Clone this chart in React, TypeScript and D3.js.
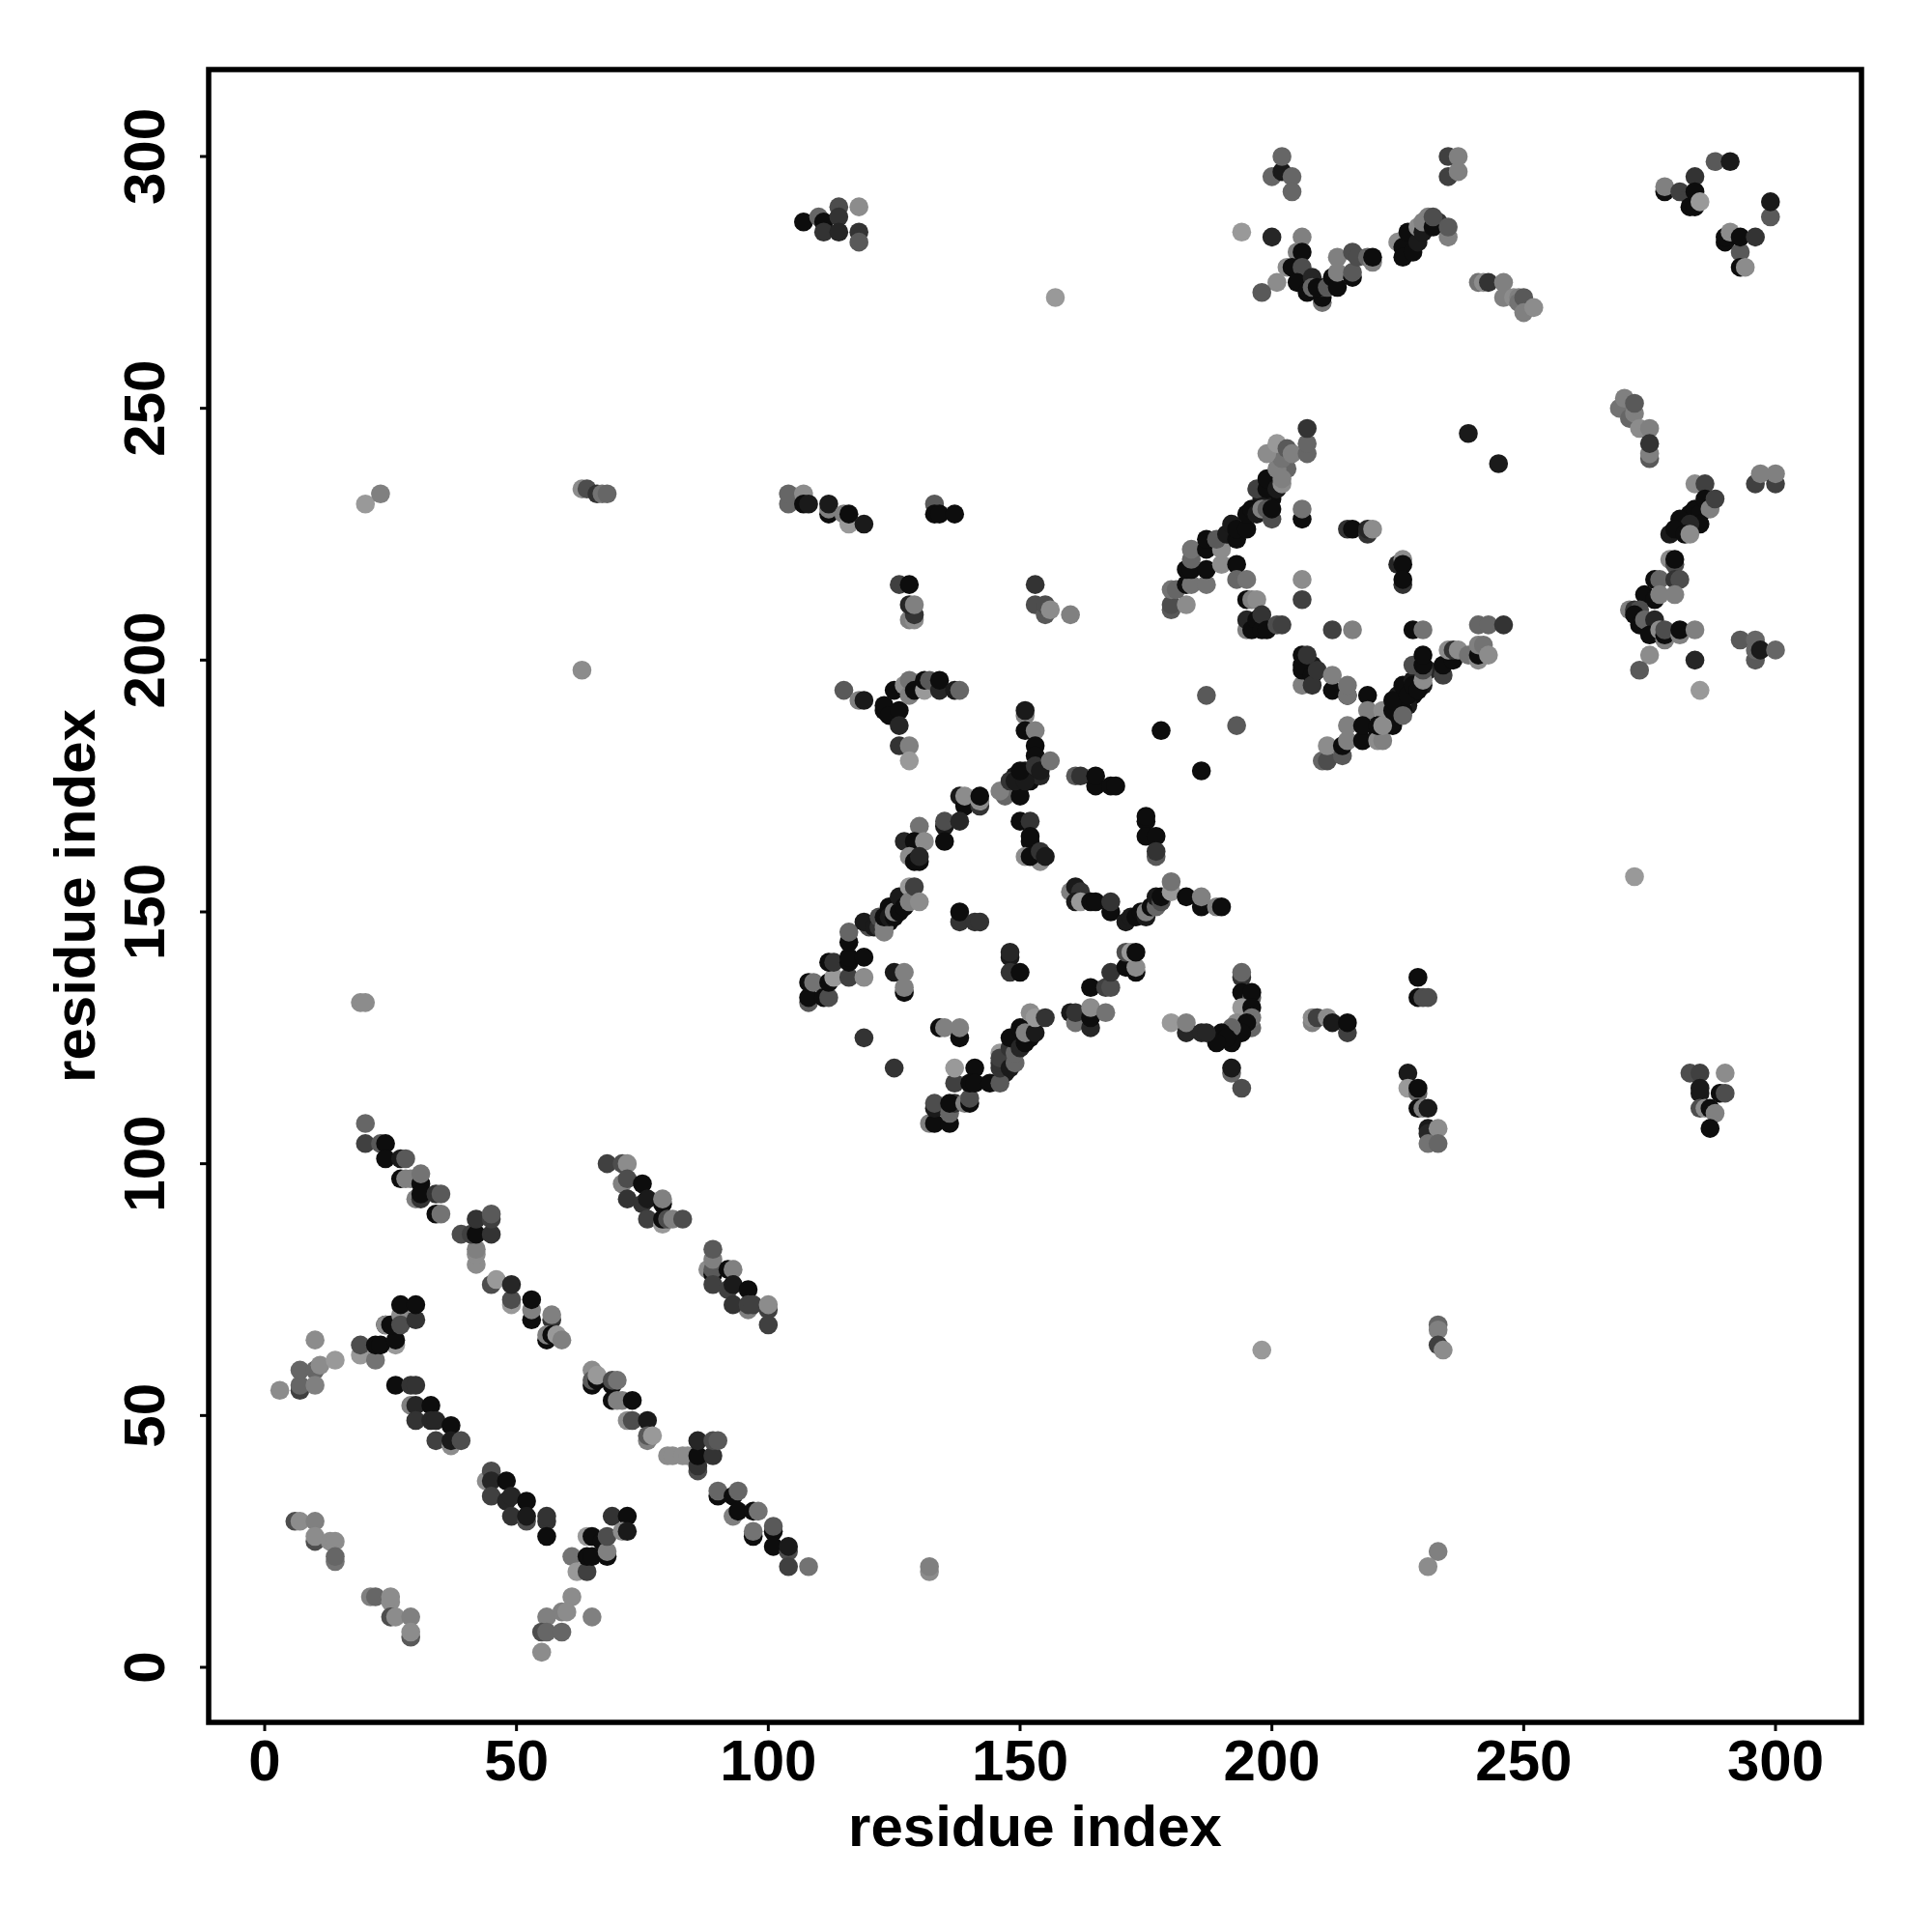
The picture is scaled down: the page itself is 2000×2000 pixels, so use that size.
import React from "react";
import * as d3 from "d3";

type P = [number, number, number];
// each triple: residue x, residue y, grey level in percent
const denseUnder: P[] = [[147,174,20],[148,175,10],[149,177,10],[150,175,5],[151,178,10],[152,177,15],[153,178,10],[152,176,5],[154,177,15],[199,233,10],[200,232,5],[201,236,30],[203,238,40],[198,232,10],[228,193,5],[227,191,10],[225,191,15],[226,192,30],[229,197,5],[230,195,10],[229,196,40],[231,198,15],[231,286,10],[229,284,5],[228,284,40],[227,283,5],[231,288,50],[233,287,20],[147,118,10],[147,120,20],[149,124,10],[150,125,5],[151,127,15],[152,125,5],[120,147,30],[124,148,5],[125,151,40],[126,151,5],[128,154,25],[284,228,10],[286,230,30],[283,229,5],[287,231,20],[279,225,10],[207,199,5],[208,199,10],[207,197,15],[221,186,5],[224,188,10],[225,193,10],[226,190,5]];
const strandA: P[] = [[20,108,40],[20,104,25],[23,104,35],[24,104,5],[24,101,5],[27,101,10],[28,101,35],[27,97,5],[29,97,50],[28,97,50],[31,96,5],[31,98,45],[30,93,50],[31,93,20],[31,94,5],[34,94,20],[35,94,35],[34,90,5],[35,90,45]];
const clusterB: P[] = [[42,80,55],[42,82,55],[42,83,50],[39,86,30],[41,86,25],[42,86,5],[45,86,20],[42,89,20],[45,89,25],[45,90,35]];
const strandC: P[] = [[45,76,30],[46,77,60],[49,72,60],[49,73,30],[49,76,15],[53,69,5],[53,71,50],[53,73,5],[57,69,20],[57,70,50],[56,65,5],[56,66,50],[57,66,5],[58,66,60],[59,65,50]];
const clusterD: P[] = [[10,65,55],[7,55,25],[7,56,40],[7,59,40],[10,59,40],[10,56,50],[11,60,55],[14,61,60],[3,55,55]];
const clusterE: P[] = [[19,62,60],[22,61,45],[19,64,30],[26,64,60],[22,64,5],[23,64,5],[26,65,5],[24,68,5],[24,68,55],[25,68,5],[27,70,55],[27,68,30],[30,69,20],[27,72,5],[30,72,5]];
const strandF: P[] = [[26,56,5],[29,56,20],[30,56,20],[29,52,50],[30,52,15],[33,52,5],[30,49,20],[33,49,15],[34,49,15],[37,48,5],[34,45,25],[37,44,55],[37,45,10],[39,45,30]];
const strandG: P[] = [[44,37,55],[45,39,30],[45,37,15],[48,37,5],[45,34,25],[48,33,15],[49,34,15],[52,33,5],[49,30,20],[52,29,30],[52,30,10],[56,29,20],[56,30,20],[56,26,5]];
const clusterH: P[] = [[61,22,45],[62,19,60],[64,19,25],[64,26,60],[64,22,5],[65,22,5],[65,26,5],[67,25,5],[68,22,5],[68,23,50],[68,26,30],[69,30,20],[72,30,5],[71,27,55],[72,27,10]];
const clusterI: P[] = [[6,29,30],[7,29,55],[10,29,50],[10,25,30],[10,26,55],[13,25,55],[14,25,55],[14,21,45],[14,22,40]];
const clusterJ: P[] = [[21,14,50],[22,14,40],[25,13,55],[25,14,55],[25,10,30],[26,10,55],[29,10,50],[29,6,35],[29,7,55]];
const clusterK: P[] = [[61,14,55],[56,10,50],[59,11,50],[60,11,55],[65,10,50],[55,7,30],[56,7,40],[59,7,40],[55,3,55]];
const strandL: P[] = [[68,100,25],[71,100,30],[72,100,55],[71,96,50],[72,97,30],[75,96,5],[72,93,20],[75,92,20],[76,93,10],[79,92,5],[79,93,50],[76,89,25],[79,88,60],[79,89,5],[80,89,30],[81,89,50],[83,89,30]];
const strandM: P[] = [[88,79,55],[89,78,5],[89,79,35],[89,81,50],[89,83,35],[92,79,5],[93,79,50],[89,76,25],[92,75,25],[93,76,10],[96,75,5],[96,71,50],[93,72,20],[96,72,25],[97,72,25],[100,71,25],[100,72,55],[100,68,25]];
const strandN: P[] = [[65,59,55],[65,56,5],[65,57,35],[66,57,5],[66,58,60],[69,56,5],[69,57,30],[70,57,45],[69,53,5],[70,53,50],[71,53,50],[73,53,5],[72,49,55],[73,49,30],[76,49,10],[76,45,50],[76,46,35],[77,46,60]];
const clusterO: P[] = [[80,42,55],[81,42,55],[83,42,55],[84,42,55],[86,39,30],[86,40,20],[86,42,5],[89,42,20],[86,45,15],[89,45,30],[90,45,35]];
const strandP: P[] = [[90,34,5],[90,35,40],[93,34,5],[94,35,40],[93,30,50],[94,31,5],[97,31,5],[98,31,45],[97,26,5],[97,27,45],[101,27,5],[101,28,35],[101,24,5],[104,23,30],[104,24,10],[104,20,25],[108,20,45]];
const scattered: P[] = [[132,19,55],[132,20,50],[19,132,55],[20,132,55],[20,231,60],[23,233,50],[63,234,55],[64,234,30],[66,233,20],[67,233,45],[68,233,40],[63,198,55],[157,272,60],[194,285,60],[198,63,60],[231,20,55],[233,23,50],[233,68,40],[233,67,50],[233,64,25],[234,63,55],[272,157,60]];
const arcQ: P[] = [[108,132,35],[108,133,5],[108,136,5],[109,136,45],[111,133,5],[112,133,30],[112,136,5],[113,137,60],[112,140,5],[113,140,20],[116,137,25],[119,137,55],[116,140,5],[116,141,5],[119,141,5],[116,144,5],[116,146,40],[119,148,10],[121,147,10],[122,147,20],[122,149,30],[123,146,50],[123,147,50],[123,149,5],[124,151,5],[124,149,10],[125,149,5],[125,150,50],[126,150,5],[126,153,10],[127,151,5],[128,155,60],[128,152,50],[129,155,25],[130,152,55]];
const clusterR: P[] = [[125,138,10],[127,138,50],[127,134,5],[127,135,50],[119,125,20],[125,119,20],[138,148,20],[138,150,5],[141,148,20],[142,148,20],[148,141,10],[148,142,15],[148,138,20],[150,138,5],[134,127,5],[135,127,50],[138,125,5],[138,127,50]];
const arcS: P[] = [[132,108,50],[133,108,5],[133,111,10],[133,112,30],[136,108,5],[136,110,40],[137,112,20],[136,112,5],[139,112,50],[140,112,5],[140,113,30],[137,116,25],[137,119,60],[141,119,5],[140,116,5],[141,116,5],[144,116,5],[146,116,35],[146,119,20],[146,120,20],[146,122,60],[146,121,25],[148,119,10],[148,123,20],[149,120,40],[149,122,40],[148,125,5],[150,127,5],[150,123,15],[151,124,5],[152,130,55],[151,126,50],[153,126,10],[153,129,60],[155,129,20]];
const clusterT: P[] = [[160,130,10],[161,128,45],[161,130,20],[164,127,15],[164,129,5],[164,131,55],[167,130,45],[164,135,5],[167,135,25],[168,135,30],[168,138,20],[171,139,5],[173,138,5],[173,139,55],[171,142,30],[172,142,60],[173,142,5],[160,154,50],[161,155,10],[162,154,20],[161,152,10],[162,152,60],[164,152,5],[165,152,5],[168,150,5],[168,152,20]];
const arcU: P[] = [[171,148,10],[172,149,10],[173,149,5],[174,150,5],[175,149,10],[175,150,50],[176,151,5],[177,151,40],[177,153,10],[178,152,30],[178,153,5],[180,154,60],[180,156,45],[183,153,5],[186,151,5],[186,153,50],[189,151,50],[190,151,5]];
const cornerV: P[] = [[115,194,35],[118,192,50],[119,192,10],[123,190,5],[123,191,5],[124,189,5],[125,194,5],[126,190,5],[127,195,55],[128,193,50],[128,196,45],[129,194,5],[126,187,15],[126,183,20],[128,183,50],[128,180,60],[131,194,60],[131,196,5],[132,196,35],[134,194,15],[134,196,5],[137,194,10],[138,194,40]];
const arcW: P[] = [[151,189,50],[151,190,10],[151,186,5],[153,186,50],[153,183,5],[153,181,5],[147,173,40],[146,174,50],[150,173,5],[148,176,20],[149,176,10],[151,176,10],[150,178,5],[153,179,20],[154,178,10],[156,180,45]];
const arcX: P[] = [[161,177,35],[162,177,20],[165,175,5],[165,177,5],[168,175,5],[169,175,5],[187,193,35],[178,186,5],[193,187,35],[186,178,5],[175,168,5],[175,169,5],[175,165,5],[177,165,5],[177,161,35],[177,162,20]];
const clusterY: P[] = [[138,173,10],[139,171,5],[139,173,55],[142,171,20],[142,172,55],[142,173,5],[135,167,10],[135,168,30],[138,168,15],[135,164,5],[130,167,45],[127,164,15],[129,164,5],[131,164,55],[128,161,55],[129,160,5],[130,160,5],[130,161,15]];
const clusterZ: P[] = [[150,168,5],[152,168,20],[152,164,5],[152,165,5],[151,161,55],[154,160,55],[152,161,5],[154,162,20],[155,161,10]];
const topRowA: P[] = [[104,231,40],[104,233,40],[107,233,55],[107,231,5],[108,231,10],[112,229,5],[112,230,50],[112,231,10],[115,229,50],[116,227,60],[116,229,5],[119,227,10],[133,231,35],[133,229,5],[134,229,5],[137,229,5],[126,215,25],[128,215,5],[128,208,50],[129,208,55],[129,209,20],[128,211,15],[129,211,50],[153,215,20],[153,211,30],[155,209,35],[155,211,30],[156,210,55],[160,209,50]];
const helixA: P[] = [[180,210,35],[180,211,30],[183,211,55],[180,214,45],[181,214,40],[183,215,5],[184,215,45],[187,215,45],[183,218,5],[184,218,5],[187,218,5],[184,220,40],[184,222,45],[187,222,5],[187,224,5],[190,219,55],[190,222,55],[189,224,35],[191,225,10],[192,227,10],[193,224,5],[193,226,5],[193,219,5],[195,226,5],[195,229,5],[196,230,5],[197,229,10],[198,230,50],[199,230,35],[200,228,30],[200,230,5]];
const helixB: P[] = [[197,234,25],[199,234,5],[199,236,5],[201,234,10],[202,235,55],[202,236,50],[201,238,50],[202,240,45],[199,241,55],[201,243,60],[203,242,35],[204,241,50],[207,241,40],[207,243,40],[207,246,20],[206,228,5],[206,230,45],[206,216,55],[206,212,25],[215,226,20],[216,226,5],[219,225,20],[219,226,15],[220,226,55],[225,219,15],[226,220,55],[226,219,5],[226,215,20],[226,216,5]];
const clusterAA: P[] = [[193,216,40],[195,216,45],[195,212,5],[196,212,50],[197,212,55],[195,206,50],[195,208,15],[196,206,5],[197,208,5],[198,206,5],[198,209,20],[199,206,5],[201,207,30],[202,207,25],[212,206,25],[216,206,50],[228,206,5],[230,206,45]];
const helixC: P[] = [[206,195,50],[206,198,5],[206,199,5],[206,201,5],[207,201,20],[208,197,5],[208,195,20],[209,198,20],[212,194,5],[212,197,50],[215,193,5],[215,193,45],[215,195,45],[219,193,5],[219,190,50],[222,190,55],[210,180,40],[211,180,30],[211,183,55],[214,181,35],[214,183,5],[215,184,50],[218,184,5],[215,187,50],[218,187,5],[221,184,55],[222,184,50],[221,187,5],[224,187,5],[222,187,55]];
const helixD: P[] = [[224,190,5],[224,192,5],[226,189,40],[226,195,5],[227,193,5],[228,196,10],[228,195,5],[229,194,5],[228,199,30],[230,196,55],[230,198,30],[230,199,5],[230,201,5],[234,197,25],[234,199,5],[236,200,5],[235,202,55],[236,202,20],[237,202,55],[239,201,45],[241,201,35],[241,200,55],[241,201,5],[241,203,50],[242,203,45],[243,201,55],[241,207,40],[243,207,40],[246,207,20],[239,245,10],[245,239,10]];
const loopA: P[] = [[200,296,40],[202,297,10],[202,300,40],[204,296,40],[204,293,40],[235,296,25],[235,300,25],[237,297,50],[237,300,50],[200,284,15],[206,284,50],[205,281,50],[206,281,5],[203,278,55],[204,278,5],[206,278,30],[201,275,55],[198,273,35]];
const loopB: P[] = [[205,275,5],[208,276,15],[207,273,5],[208,274,40],[210,271,45],[210,272,5],[210,274,20],[209,274,5],[211,274,35],[212,276,5],[213,274,5],[213,277,50],[213,280,50],[216,276,5],[216,277,35],[216,281,30],[217,280,30],[219,280,40],[220,279,50],[220,280,5]];
const loopC: P[] = [[225,283,55],[226,282,5],[226,280,5],[227,285,5],[228,281,5],[229,283,10],[229,286,55],[230,285,10],[230,287,50],[232,286,5],[232,288,30],[235,284,50],[235,286,35],[241,275,45],[242,275,55],[243,275,20],[246,275,50],[246,272,50],[248,272,55],[249,272,50],[249,271,45],[250,272,35],[250,269,50],[252,270,55]];
const loopD: P[] = [[107,287,5],[110,288,40],[111,287,5],[111,285,20],[114,290,30],[114,288,20],[114,285,15],[118,290,55],[118,285,20],[118,283,35],[288,299,35],[291,299,10],[284,296,20],[278,293,5],[278,294,50],[281,293,25],[283,292,25],[283,290,5],[284,290,5],[284,293,5],[285,291,60],[299,288,35],[299,291,10],[290,283,5],[290,284,5],[291,285,55],[293,281,35],[293,284,5],[296,284,20],[293,278,5],[294,278,55]];
const loopE: P[] = [[269,250,45],[270,252,50],[271,248,40],[272,249,50],[272,251,35],[273,246,55],[275,246,50],[275,240,35],[275,241,50],[275,243,20],[284,235,55],[286,235,25],[284,230,5],[285,229,5],[286,232,5],[287,230,50],[288,232,25],[281,228,5],[285,227,5],[283,227,15],[280,226,5],[282,225,5],[283,225,55],[296,235,25],[300,235,25],[297,237,50],[300,237,50]];
const loopF: P[] = [[279,220,55],[280,219,30],[280,220,5],[276,216,5],[277,216,40],[280,216,20],[281,216,30],[274,213,5],[276,212,5],[277,213,50],[280,213,50],[271,210,50],[272,210,20],[273,210,30],[272,209,5],[273,207,5],[274,208,40],[276,208,15],[275,205,5],[277,206,55],[278,204,50],[278,205,5],[278,206,30],[281,205,50],[281,206,5],[284,206,50],[275,201,55],[273,198,35],[284,200,15],[285,194,60],[293,204,35],[296,200,35],[296,202,40],[296,204,40],[297,202,10],[300,202,40]];
const clusterBB: P[] = [[194,137,20],[194,138,40],[194,134,5],[196,133,35],[196,134,5],[194,131,60],[196,131,5],[193,128,55],[196,127,40],[196,129,45],[195,128,5],[194,126,5],[192,127,40],[192,124,5],[190,126,5],[191,125,5],[189,124,5],[180,128,60],[183,126,15],[183,128,50],[186,126,15],[187,126,15],[192,118,40],[192,119,10],[194,115,30]];
const clusterCC: P[] = [[208,128,50],[208,129,55],[209,129,25],[211,129,55],[212,128,10],[215,126,25],[215,128,5],[229,137,5],[229,133,5],[230,133,30],[231,133,30],[227,118,10],[227,115,60],[229,114,40],[229,115,5],[229,111,5],[230,111,50],[231,111,10],[231,107,10],[231,106,15],[233,107,55],[231,104,45],[233,104,40],[283,118,30],[285,118,25],[290,118,55],[285,114,10],[285,115,10],[289,114,5],[290,114,30],[285,111,30],[286,111,55],[287,111,5],[288,110,50],[287,107,5]];

const allContacts: P[] = [denseUnder,strandA,clusterB,strandC,clusterD,clusterE,strandF,strandG,clusterH,clusterI,clusterJ,clusterK,strandL,strandM,strandN,clusterO,strandP,scattered,arcQ,clusterR,arcS,clusterT,arcU,cornerV,arcW,arcX,clusterY,clusterZ,topRowA,helixA,helixB,clusterAA,helixC,helixD,loopA,loopB,loopC,loopD,loopE,loopF,clusterBB,clusterCC].flat();

const axisTicks = [0, 50, 100, 150, 200, 250, 300];
const axisLabel = "residue index";

const W = 2000, H = 2000;
const box = { left: 216, right: 1927, top: 72, bottom: 1783 };
const font = "'Liberation Sans', Arial, sans-serif";

export default function App() {
  const x = d3.scaleLinear().domain([0, 300]).range([274, 1838]);
  const y = d3.scaleLinear().domain([0, 300]).range([1726, 162]);
  const grey = (v: number) => d3.rgb((v * 255) / 100, (v * 255) / 100, (v * 255) / 100).formatRgb();
  return (
    <svg width={W} height={H} style={{ position: "absolute", left: 0, top: 0, background: "#fff" }}>
      {allContacts.map(([a, b, s], i) => (
        <circle key={i} cx={x(a)} cy={y(b)} r={9.8} fill={grey(s)} />
      ))}
      <rect x={box.left} y={box.top} width={box.right - box.left} height={box.bottom - box.top} fill="none" stroke="#000" strokeWidth={5.5} />
      {axisTicks.map((t) => (
        <g key={t}>
          <line x1={x(t)} x2={x(t)} y1={box.bottom} y2={box.bottom + 9} stroke="#000" strokeWidth={3} />
          <text x={x(t)} y={1843} textAnchor="middle" fontFamily={font} fontWeight="bold" fontSize={60}>{t}</text>
          <line x1={box.left} x2={box.left - 9} y1={y(t)} y2={y(t)} stroke="#000" strokeWidth={3} />
          <text transform={`translate(170,${y(t)}) rotate(-90)`} textAnchor="middle" fontFamily={font} fontWeight="bold" fontSize={60}>{t}</text>
        </g>
      ))}
      <text x={(box.left + box.right) / 2} y={1911} textAnchor="middle" fontFamily={font} fontWeight="bold" fontSize={60}>{axisLabel}</text>
      <text transform={`translate(98,${(box.top + box.bottom) / 2}) rotate(-90)`} textAnchor="middle" fontFamily={font} fontWeight="bold" fontSize={60}>{axisLabel}</text>
    </svg>
  );
}
